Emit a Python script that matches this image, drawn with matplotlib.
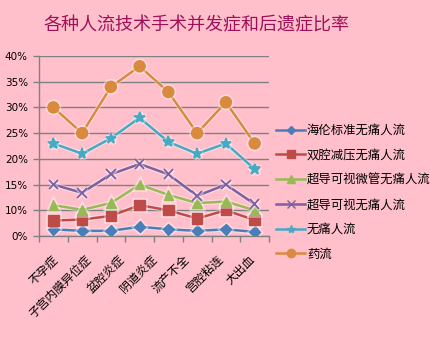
import matplotlib
matplotlib.use("Agg")
import matplotlib.pyplot as plt
import matplotlib.patheffects as pe
from matplotlib.lines import Line2D

plt.rcParams['font.family'] = ['Noto Sans CJK SC', 'DejaVu Sans']

title = "各种人流技术手术并发症和后遗症比率"
categories = ["不孕症", "子宫内膜异位症", "盆腔炎症", "阴道炎症", "流产不全", "宫腔粘连", "大出血"]
n_points = 8

series_names = ["海伦标准无痛人流", "双腔减压无痛人流", "超导可视微管无痛人流",
                "超导可视无痛人流", "无痛人流", "药流"]
helun = [6.3, 6.0, 6.0, 6.8, 6.3, 6.0, 6.3, 5.8]
shuangqiang = [8.0, 8.2, 8.9, 11.0, 10.0, 8.4, 10.0, 8.1]
weiguan = [11.0, 10.1, 11.4, 15.0, 13.0, 11.4, 11.7, 10.0]
chaodao = [15.0, 13.4, 17.0, 19.0, 17.0, 12.8, 15.0, 11.2]
wutong = [23.0, 21.0, 24.0, 28.0, 23.3, 21.0, 23.0, 18.0]
yaoliu = [30.0, 25.0, 34.0, 38.0, 33.0, 25.0, 31.0, 23.0]

y_ticks = [5, 10, 15, 20, 25, 30, 35, 40]
y_tick_labels = ["0%", "10%", "15%", "20%", "25%", "30%", "35%", "40%"]

colors = ["#4A7EBB", "#BE4B48", "#98B954", "#7D60A0", "#46AAC5", "#DA8A3E"]
markers = ["D", "s", "^", "x", "*", "o"]
msizes = [5.5, 7.5, 7, 7, 8, 8]
all_series = [helun, shuangqiang, weiguan, chaodao, wutong, yaoliu]

bg = "#FFC0CB"
fig = plt.figure(figsize=(4.3, 3.5), dpi=100, facecolor=bg)
ax = fig.add_axes([39 / 430, 1 - 236 / 350, 230 / 430, 180 / 350], facecolor=bg)

xs = list(range(n_points))
glow = [pe.Stroke(linewidth=3.4, foreground="white", alpha=0.4), pe.Normal()]
for vals, c, m, ms, name in zip(all_series, colors, markers, msizes, series_names):
    ax.plot(xs, vals, color=c, lw=1.8, marker=m, markersize=ms,
            markeredgewidth=1.3 if m in ("x", "*") else 1.0,
            markeredgecolor=c, markerfacecolor=c, label=name,
            path_effects=glow, zorder=3)

ax.set_xlim(-0.5, n_points - 0.5)
ax.set_ylim(y_ticks[0], y_ticks[-1])
ax.set_yticks(y_ticks)
ax.set_yticklabels(y_tick_labels, fontsize=7.5, family=['DejaVu Sans'])
ax.grid(axis="y", color="#808080", lw=1.0)
ax.set_axisbelow(True)

# category-boundary tick marks along the bottom axis
ax.set_xticks([i - 0.5 for i in range(n_points + 1)])
ax.set_xticklabels([])
ax.tick_params(axis="x", length=4, color="#808080", width=1)
ax.tick_params(axis="y", length=4, color="#808080", width=1, pad=4)

for side in ("top", "right"):
    ax.spines[side].set_visible(False)
for side in ("left", "bottom"):
    ax.spines[side].set_color("#808080")
    ax.spines[side].set_linewidth(1.0)

# rotated category labels spread evenly across the axis
ncat = len(categories)
for i, lab in enumerate(categories):
    xf = (i + 0.5) / ncat + 0.004
    ax.text(xf, -0.12, lab, transform=ax.transAxes, rotation=45,
            rotation_mode="anchor", ha="right", va="center", fontsize=8.5,
            color="black")

handles = [Line2D([0], [0], color=c, lw=1.8, marker=m,
                  markersize=s * 0.75, markeredgecolor=c, markerfacecolor=c)
           for c, m, s in zip(colors, markers, msizes)]
fig.legend(handles, series_names, loc="upper left",
           bbox_to_anchor=(276 / 430, 1 - 124 / 350), frameon=False,
           fontsize=8.9, handlelength=2.35, handletextpad=0.15,
           labelspacing=0.95, borderaxespad=0, borderpad=0)

fig.text(197 / 430, 1 - 25 / 350, title, ha="center", va="center",
         fontsize=13, color="#A0105A")

fig.savefig("out.png", dpi=100, facecolor=bg)
